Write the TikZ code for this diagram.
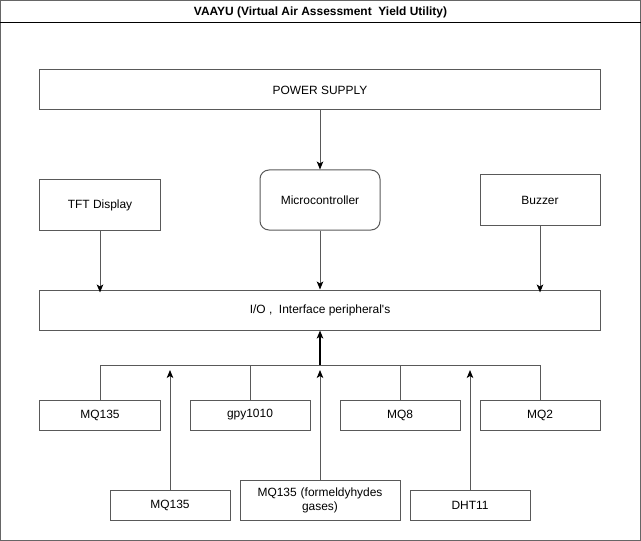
\documentclass[tikz,border=0pt]{standalone}
\usepackage{fontspec}
\setmainfont{Liberation Sans}
\usepackage{tikz}
\usetikzlibrary{arrows,arrows.meta,calc}

\tikzset{
  block/.style = {draw = black!65, line width = 1bp, minimum height = 40bp,
                  inner sep = 0pt, font = \fontsize{12}{14}\selectfont},
  wire/.style = {draw = black!65, line width = 1bp},
  feed/.style = {wire, -{Stealth[length = 8bp, width = 6.5bp, inset = 2bp, color = black]}},
}

\begin{document}
\begin{tikzpicture}[x = 1bp, y = -1bp]

\useasboundingbox (0,0) rectangle (641,541);

% outer frame and title bar
\draw[black!60, line width = 1bp] (0.5,0.5) rectangle (640.5,540.5);
\draw[black, line width = 1bp] (0.5,23) -- (640.5,23);
\node (title) at (320.5,12) {\fontsize{12}{14}\selectfont\bfseries VAAYU (Virtual Air Assessment\ \ Yield Utility)};

% upper blocks
\node[block, minimum width = 560bp] (power) at (320,90) {POWER SUPPLY};
\node[block, minimum width = 120bp, minimum height = 50bp] (tft) at (100,205) {TFT Display};
\node[block, minimum width = 120bp, minimum height = 60bp, rounded corners = 9bp] (mcu) at (320,200) {Microcontroller};
\node[block, minimum width = 120bp, minimum height = 50bp] (buzzer) at (540,200) {Buzzer};
\node[block, minimum width = 560bp] (io) at (320,310) {I/O ,\ \ Interface peripheral\textquotesingle s};

% sensors, first row
\node[block, minimum width = 120bp, minimum height = 30bp] (mqa) at (100,415) {MQ135};
\node[block, minimum width = 120bp, minimum height = 30bp] (gpy) at (250,415) {gpy1010};
\node[block, minimum width = 120bp, minimum height = 30bp] (mqe) at (400,415) {MQ8};
\node[block, minimum width = 120bp, minimum height = 30bp] (mqt) at (540,415) {MQ2};

% sensors, second row
\node[block, minimum width = 120bp, minimum height = 30bp] (mqb) at (170,505) {MQ135};
\node[block, minimum width = 160bp, text width = 148bp, align = center] (form) at (320,500) {MQ135 (formeldyhydes\\gases)};
\node[block, minimum width = 120bp, minimum height = 30bp] (dht) at (470,505) {DHT11};

% connectors
\draw[feed] (power) -- (mcu);
\draw[feed] (mcu) -- (io);
\draw[feed] (tft.south) -- ($(io.north)+(-220,3)$);
\draw[feed] (buzzer.south) -- ($(io.north)+(220,3)$);

\coordinate (hub) at (320,365);
\foreach \s in {mqa, gpy, mqe, mqt}
  \draw[wire] (\s.north) |- (hub);
\draw[black, line width = 2bp, -{Stealth[length = 8bp, width = 6.5bp, inset = 2bp]}] (hub) -- (io.south);

\coordinate (tipb) at (170,370);
\coordinate (tipf) at (320,370);
\coordinate (tipd) at (470,370);
\draw[feed] (mqb.north) -- (tipb);
\draw[feed] (form.north) -- (tipf);
\draw[feed] (dht.north) -- (tipd);

\end{tikzpicture}
\end{document}
